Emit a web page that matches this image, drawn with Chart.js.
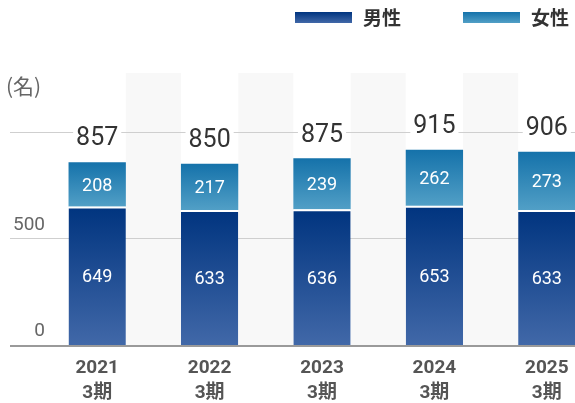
<!DOCTYPE html>
<html lang="ja">
<head>
<meta charset="utf-8">
<script src="https://cdn.jsdelivr.net/npm/chart.js@4.4.1/dist/chart.umd.min.js"></script>
<style>
  html, body { margin: 0; padding: 0; background: #fff; }
  #wrap { width: 575px; height: 403px; overflow: hidden; position: relative; }
  #staff-chart { display: block; }
</style>
</head>
<body>
<div id="wrap">
  <canvas id="staff-chart" width="605" height="403"></canvas>
</div>
<script>
// --- DATA ---
const years = ['2021', '2022', '2023', '2024', '2025'];
const periodSuffix = '3期';
const maleCounts = [649, 633, 636, 653, 633];
const femaleCounts = [208, 217, 239, 262, 273];
const yTicks = [0, 500, 1000];
const yTickLabels = ['0', '500', ''];
const unitLabel = '(名)';
const seriesNames = ['男性', '女性'];

const NUM_FONT = 'Roboto, "Noto Sans CJK JP", sans-serif';
const JP_FONT = '"Noto Sans CJK JP", Roboto, sans-serif';

const totals = maleCounts.map((m, i) => m + femaleCounts[i]);

// vertical gradient between two pixel rows
function vGradient(ctx, top, bottom, c1, c2) {
    const g = ctx.createLinearGradient(0, top, 0, bottom);
    g.addColorStop(0, c1);
    g.addColorStop(1, c2);
    return g;
}

const MALE_TOP = '#00347f', MALE_BOTTOM = '#4168a8';
const FEMALE_TOP = '#1572aa', FEMALE_BOTTOM = '#519fc6';

function maleFill(context) {
    const chart = context.chart;
    const y = chart.scales.y;
    if (!chart.chartArea || !y) return MALE_TOP;
    const i = context.dataIndex;
    return vGradient(chart.ctx, y.getPixelForValue(maleCounts[i]), y.getPixelForValue(0), MALE_TOP, MALE_BOTTOM);
}

function femaleFill(context) {
    const chart = context.chart;
    const y = chart.scales.y;
    if (!chart.chartArea || !y) return FEMALE_TOP;
    const i = context.dataIndex;
    return vGradient(chart.ctx, y.getPixelForValue(totals[i]), y.getPixelForValue(maleCounts[i]), FEMALE_TOP, FEMALE_BOTTOM);
}

// grey column bands, grid lines, axis line, unit and y labels
const backdropPlugin = {
    id: 'backdrop',
    beforeDatasetsDraw(chart) {
        const { ctx, chartArea, scales } = chart;
        const bars = chart.getDatasetMeta(0).data;
        ctx.save();
        ctx.fillStyle = '#f8f8f8';
        for (let i = 0; i < bars.length - 1; i++) {
            const left = bars[i].x + bars[i].width / 2;
            const right = bars[i + 1].x - bars[i + 1].width / 2;
            ctx.fillRect(left, chartArea.top, right - left, chartArea.bottom - chartArea.top);
        }
        ctx.strokeStyle = '#cfcfcf';
        ctx.lineWidth = 1;
        yTicks.forEach(v => {
            if (v === 0) return;
            const py = Math.round(scales.y.getPixelForValue(v)) + 0.5;
            ctx.beginPath();
            ctx.moveTo(10, py);
            ctx.lineTo(chart.width, py);
            ctx.stroke();
        });
        ctx.fillStyle = '#666';
        ctx.font = '19px ' + NUM_FONT;
        ctx.textAlign = 'right';
        ctx.textBaseline = 'bottom';
        yTicks.forEach((v, k) => {
            if (!yTickLabels[k]) return;
            ctx.fillText(yTickLabels[k], 45, scales.y.getPixelForValue(v) - 4);
        });
        ctx.textAlign = 'left';
        ctx.textBaseline = 'middle';
        ctx.font = '21px ' + JP_FONT;
        ctx.fillText(unitLabel, 6, 86);
        ctx.restore();
    },
    afterDatasetsDraw(chart) {
        const { ctx, chartArea } = chart;
        ctx.save();
        ctx.strokeStyle = '#9a9a9a';
        ctx.lineWidth = 2;
        ctx.beginPath();
        ctx.moveTo(10, chartArea.bottom + 1);
        ctx.lineTo(chart.width, chartArea.bottom + 1);
        ctx.stroke();
        ctx.restore();
    }
};

// value labels inside the segments and totals above the bars
const valueLabelPlugin = {
    id: 'valueLabels',
    afterDatasetsDraw(chart) {
        const { ctx } = chart;
        const maleBars = chart.getDatasetMeta(0).data;
        const femaleBars = chart.getDatasetMeta(1).data;
        ctx.save();
        ctx.textAlign = 'center';
        ctx.textBaseline = 'middle';
        ctx.fillStyle = '#fff';
        ctx.font = '18px ' + NUM_FONT;
        maleBars.forEach((bar, i) => {
            ctx.fillText(String(maleCounts[i]), bar.x, (bar.y + bar.base) / 2 + 2);
        });
        femaleBars.forEach((bar, i) => {
            ctx.fillText(String(femaleCounts[i]), bar.x, (bar.y + bar.base) / 2 + 2);
        });
        ctx.font = '25px ' + NUM_FONT;
        femaleBars.forEach((bar, i) => {
            const text = String(totals[i]);
            const w = ctx.measureText(text).width;
            const cy = bar.y - 23;
            ctx.fillStyle = '#fff';
            ctx.fillRect(bar.x - w / 2 - 3, cy - 12, w + 6, 24);
            ctx.fillStyle = '#333';
            ctx.fillText(text, bar.x, cy);
        });
        ctx.restore();
    }
};

// legend in the top right corner
const legendPlugin = {
    id: 'topLegend',
    afterDraw(chart) {
        const { ctx } = chart;
        const items = [
            { x: 295, name: seriesNames[0], c1: MALE_TOP, c2: MALE_BOTTOM },
            { x: 463, name: seriesNames[1], c1: FEMALE_TOP, c2: FEMALE_BOTTOM }
        ];
        ctx.save();
        items.forEach(it => {
            ctx.fillStyle = vGradient(ctx, 12, 23, it.c1, it.c2);
            ctx.fillRect(it.x, 12, 57, 11);
            ctx.fillStyle = '#333';
            ctx.font = 'bold 19px ' + JP_FONT;
            ctx.textAlign = 'left';
            ctx.textBaseline = 'middle';
            ctx.fillText(it.name, it.x + 68, 18);
        });
        ctx.restore();
    }
};

new Chart(document.getElementById('staff-chart'), {
    type: 'bar',
    data: {
        labels: years.map(y => [y, periodSuffix]),
        datasets: [
            {
                label: seriesNames[0],
                data: maleCounts,
                backgroundColor: maleFill,
                borderColor: '#fff',
                borderWidth: { top: 2, left: 0, right: 0, bottom: 0 },
                borderSkipped: false
            },
            {
                label: seriesNames[1],
                data: femaleCounts,
                backgroundColor: femaleFill,
                borderWidth: 0
            }
        ]
    },
    options: {
        responsive: false,
        animation: false,
        devicePixelRatio: 1,
        layout: { padding: { left: 41, right: 2, top: 73, bottom: 0 } },
        datasets: {
            bar: { categoryPercentage: 1, barPercentage: 0.51 }
        },
        scales: {
            x: {
                stacked: true,
                grid: { display: false, drawTicks: false },
                border: { display: false },
                ticks: {
                    color: '#555',
                    padding: 11,
                    maxRotation: 0,
                    font: { family: NUM_FONT, size: 19, weight: 'bold', lineHeight: 1.3 }
                },
                afterFit(scale) { scale.height = 58; }
            },
            y: {
                stacked: true,
                display: false,
                min: 0,
                max: 1275
            }
        },
        plugins: {
            legend: { display: false },
            tooltip: { enabled: false }
        }
    },
    plugins: [backdropPlugin, valueLabelPlugin, legendPlugin]
});
</script>
</body>
</html>
